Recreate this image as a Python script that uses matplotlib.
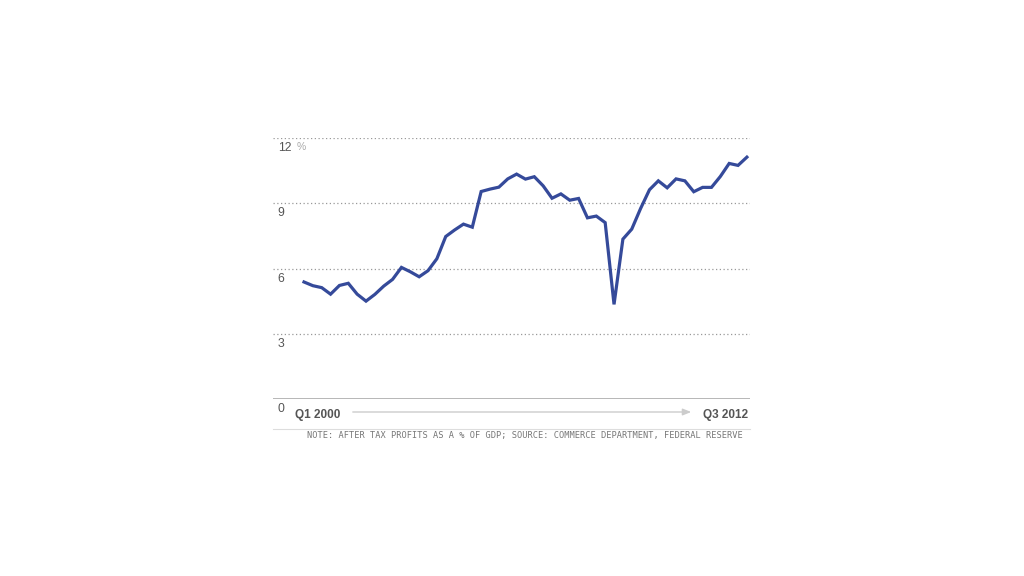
#!/usr/bin/env python3
# Corporate after-tax profits as % of GDP, quarterly Q1 2000 - Q3 2012.
import matplotlib
matplotlib.use("Agg")
import matplotlib.pyplot as plt
import numpy as np

# Data
profits = [
    5.38, 5.21, 5.12, 4.82, 5.22, 5.32, 4.82, 4.50, 4.81, 5.19,
    5.50, 6.05, 5.85, 5.62, 5.90, 6.45, 7.47, 7.77, 8.04, 7.90,
    9.54, 9.65, 9.74, 10.12, 10.34, 10.11, 10.22, 9.80, 9.23, 9.43,
    9.14, 9.22, 8.33, 8.41, 8.11, 4.35, 7.35, 7.81, 8.76, 9.62,
    10.03, 9.71, 10.12, 10.03, 9.53, 9.73, 9.73, 10.23, 10.83, 10.74,
    11.12,
]
y_ticks = [0, 3, 6, 9, 12]
start_label = "Q1 2000"
end_label = "Q3 2012"
note = "NOTE: AFTER TAX PROFITS AS A % OF GDP; SOURCE: COMMERCE DEPARTMENT, FEDERAL RESERVE"

line_blue = "#354a9a"
grid_gray = "#999999"
text_gray = "#555555"

plt.rcParams["font.family"] = ["Liberation Sans", "DejaVu Sans"]

fig = plt.figure(figsize=(10.24, 5.76), dpi=100)
ax = fig.add_axes([273 / 1024, 1 - 399 / 576, 477 / 1024, 261 / 576])

x = np.arange(len(profits))
ax.plot(x, profits, color=line_blue, lw=2.3, solid_joinstyle="miter", zorder=3)

ax.set_xlim(-3.5, 50.35)
ax.set_ylim(0, 12)

# dotted gridlines, solid baseline
for t in y_ticks[1:]:
    ax.axhline(t, color=grid_gray, lw=0.9, ls=(0, (1, 2)), zorder=1)
ax.axhline(0, color="#aaaaaa", lw=1.2, zorder=2)

for s in ax.spines.values():
    s.set_visible(False)
ax.set_xticks([])
ax.set_yticks([])

# y labels sit just under each gridline, inside the axes
for t in y_ticks:
    ax.annotate(str(t), xy=(0, t), xycoords=("axes fraction", "data"),
                xytext=(3.5, -3), textcoords="offset points",
                ha="left", va="top", fontsize=8.8, color=text_gray)
ax.annotate("%", xy=(0, 12), xycoords=("axes fraction", "data"),
            xytext=(17, -3), textcoords="offset points",
            ha="left", va="top", fontsize=7.5, color="#aaaaaa")

# x labels with arrow
ax.annotate(start_label, xy=(0, 0), xycoords="axes fraction",
            xytext=(16, -7), textcoords="offset points",
            ha="left", va="top", fontsize=8.5, fontweight="bold", color=text_gray)
ax.annotate(end_label, xy=(1, 0), xycoords="axes fraction",
            xytext=(-1, -7), textcoords="offset points",
            ha="right", va="top", fontsize=8.5, fontweight="bold", color=text_gray)
ax.annotate("", xy=(694 / 1024, 1 - 412 / 576), xycoords="figure fraction",
            xytext=(350 / 1024, 1 - 412 / 576), textcoords="figure fraction",
            arrowprops=dict(arrowstyle="-|>,head_length=0.5,head_width=0.2",
                            color="#cccccc", lw=1))

# separator and note
fig.add_artist(plt.Line2D([273 / 1024, 750 / 1024], [1 - 429 / 576, 1 - 429 / 576],
                          color="#dddddd", lw=0.8))
fig.text(743 / 1024, 1 - 431 / 576, note, ha="right", va="top",
         family="DejaVu Sans Mono", fontsize=6.25, color="#777777")

fig.savefig("out.png", dpi=100)
